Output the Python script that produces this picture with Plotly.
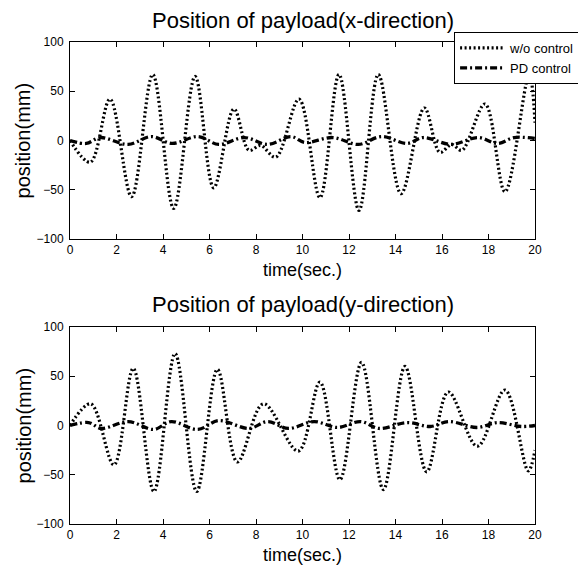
import plotly.graph_objects as go

# ---- data ----
# x-direction, without control (extrema)
tx_wo = [0, 0.87, 1.72, 2.65, 3.56, 4.46, 5.38, 6.18, 7.05, 7.7, 8.2, 8.85, 9.85,
         10.75, 11.57, 12.43, 13.26, 14.24, 15.24, 15.91, 16.42, 16.85, 17.85,
         18.71, 19.75, 20]
vx_wo = [0, -22, 42, -57, 67, -69, 65, -48, 32, -10, -5, -17, 42,
         -58, 67, -71, 67, -54, 33, -12, -4, -10, 37,
         -52, 67, 18]
# x-direction, PD control
tx_pd = [0, 0.7, 1.3, 2.5, 3.5, 4.4, 5.5, 6.4, 7.5, 8.5, 9.5, 10.1, 11.3, 12.4,
         13.4, 14.5, 15.2, 16.4, 17.55, 18.4, 19.1, 20]
vx_pd = [0, -3, 3, -4, 4, -3, 4, -4, 3, -4, 4, -2, 3, -4,
         4, -3, 3, -4, 3, -3, 3, 2]
# y-direction, without control
ty_wo = [0, 0.89, 1.89, 2.72, 3.61, 4.52, 5.45, 6.34, 7.2, 8.32, 9.82, 10.75,
         11.61, 12.54, 13.48, 14.41, 15.34, 16.27, 17.52, 18.71, 19.71, 20]
vy_wo = [0, 22, -40, 58, -67, 73, -67, 57, -37, 22, -26, 44,
         -55, 64, -65, 60, -47, 34, -21, 36, -46, -25]
# y-direction, PD control
ty_pd = [0, 0.8, 1.35, 2.5, 3.6, 4.35, 5.5, 6.4, 7.7, 8.5, 9.4, 10.5, 11.5,
         12.5, 13.3, 14.5, 15.5, 16.3, 17.5, 18.4, 19.4, 20]
vy_pd = [0, 3, -3, 4, -4, 4, -4, 5, -3, 4, -3, 4, -2,
         4, -3, 3, -1, 4, -2, 3, -1, 0]

x_ticks = [0, 2, 4, 6, 8, 10, 12, 14, 16, 18, 20]
y_ticks = [-100, -50, 0, 50, 100]
titles = ["Position of payload(x-direction)", "Position of payload(y-direction)"]
names = ["w/o control", "PD control"]

FONT = "Liberation Sans, Arial, sans-serif"
dot_style = dict(color="black", width=3.2, dash="2px,2.5px", shape="spline")
dd_style = dict(color="black", width=3.3, dash="7px,3px,2px,3px", shape="spline")

fig = go.Figure()
fig.add_trace(go.Scatter(x=tx_wo, y=vx_wo, mode="lines", name=names[0], line=dot_style,
                         xaxis="x", yaxis="y"))
fig.add_trace(go.Scatter(x=tx_pd, y=vx_pd, mode="lines", name=names[1], line=dd_style,
                         xaxis="x", yaxis="y"))
fig.add_trace(go.Scatter(x=ty_wo, y=vy_wo, mode="lines", name=names[0], line=dot_style,
                         xaxis="x2", yaxis="y2", showlegend=False))
fig.add_trace(go.Scatter(x=ty_pd, y=vy_pd, mode="lines", name=names[1], line=dd_style,
                         xaxis="x2", yaxis="y2", showlegend=False))

axis_common = dict(showline=True, linecolor="black", linewidth=1, mirror="ticks",
                   ticks="inside", ticklen=5, tickcolor="black", showgrid=False,
                   zeroline=False, tickfont=dict(family=FONT, size=12, color="black"))

# the page body has an 8px margin, so the figure is 8px smaller and margins shifted
fig.update_layout(
    width=578, height=561,
    margin=dict(l=62, r=51, t=34, b=45, autoexpand=False),
    paper_bgcolor="white", plot_bgcolor="white",
    font=dict(family=FONT, color="black"),
    xaxis=dict(domain=[0, 1], anchor="y", range=[0, 20], tickvals=x_ticks, **axis_common),
    yaxis=dict(domain=[0.5913, 1], anchor="x", range=[-100, 100], tickvals=y_ticks,
               ticklabelstandoff=3, **axis_common),
    xaxis2=dict(domain=[0, 1], anchor="y2", range=[0, 20], tickvals=x_ticks, **axis_common),
    yaxis2=dict(domain=[0, 0.4087], anchor="x2", range=[-100, 100], tickvals=y_ticks,
                ticklabelstandoff=3, **axis_common),
    showlegend=True,
    legend=dict(x=0.826, y=1.0207, xanchor="left", yanchor="top",
                bgcolor="white", bordercolor="black", borderwidth=1,
                font=dict(family=FONT, size=13, color="black"),
                itemwidth=45, tracegroupgap=0),
)

ann = []
for yp, t in zip([1.0456, 0.4544], titles):
    ann.append(dict(text=t, x=0.5, y=yp, xref="paper", yref="paper", showarrow=False,
                    xanchor="center", yanchor="middle",
                    font=dict(family=FONT, size=22, color="black")))
for yp in [0.527, -0.0643]:
    ann.append(dict(text="time(sec.)", x=0.5, y=yp, xref="paper", yref="paper",
                    showarrow=False, xanchor="center", yanchor="middle",
                    font=dict(family=FONT, size=18, color="black")))
for yp in [0.7957, 0.2043]:
    ann.append(dict(text="position(mm)", x=-0.099, y=yp, xref="paper", yref="paper",
                    showarrow=False, xanchor="center", yanchor="middle", textangle=-90,
                    font=dict(family=FONT, size=20, color="black")))
fig.update_layout(annotations=ann)

fig.write_html("out.html")
